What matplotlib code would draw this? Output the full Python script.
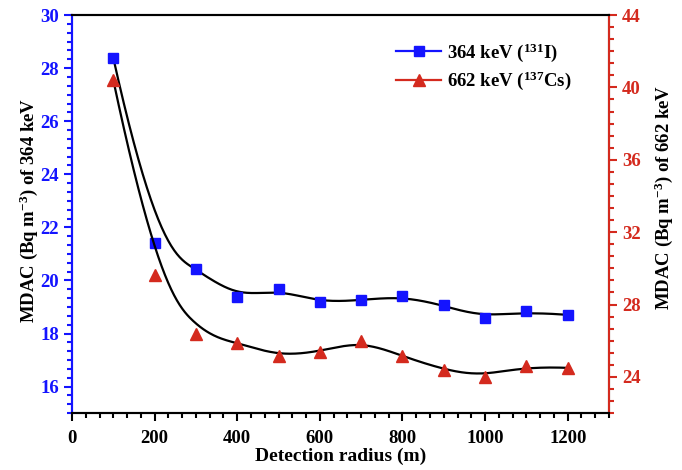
import numpy as np
import matplotlib
matplotlib.use("Agg")
import matplotlib.pyplot as plt
from matplotlib.ticker import MultipleLocator, AutoMinorLocator
from matplotlib.lines import Line2D

# data
radius = [100, 200, 300, 400, 500, 600, 700, 800, 900, 1000, 1100, 1200]
mdac_364 = [28.38, 21.4, 20.42, 19.36, 19.67, 19.17, 19.26, 19.4, 19.06, 18.58, 18.83, 18.7]
mdac_662 = [40.4, 29.65, 26.4, 25.9, 25.15, 25.4, 26.0, 25.15, 24.4, 24.0, 24.6, 24.5]

BLUE = "#1414ff"
RED = "#d42a1e"

plt.rcParams["font.family"] = ["Liberation Serif", "DejaVu Serif"]
plt.rcParams["font.weight"] = "bold"
plt.rcParams["mathtext.fontset"] = "custom"
plt.rcParams["mathtext.rm"] = "Liberation Serif:bold"
plt.rcParams["mathtext.it"] = "Liberation Serif:bold"
plt.rcParams["mathtext.bf"] = "Liberation Serif:bold"


def bspline(xs, ys, k=3, n=400):
    # clamped B-spline with the data points as control points (like Origin's B-Spline line)
    pts = np.column_stack([xs, ys]).astype(float)
    m = len(pts)
    t = np.concatenate([np.zeros(k), np.linspace(0, 1, m - k + 1), np.ones(k)])
    u = np.linspace(0, 1, n)
    u[-1] = 1 - 1e-12
    N = np.zeros((n, len(t) - 1))
    for i in range(len(t) - 1):
        N[:, i] = (u >= t[i]) & (u < t[i + 1])
    for d in range(1, k + 1):
        Nn = np.zeros((n, len(t) - 1 - d))
        for i in range(len(t) - 1 - d):
            a = 0.0
            b = 0.0
            if t[i + d] != t[i]:
                a = (u - t[i]) / (t[i + d] - t[i]) * N[:, i]
            if t[i + d + 1] != t[i + 1]:
                b = (t[i + d + 1] - u) / (t[i + d + 1] - t[i + 1]) * N[:, i + 1]
            Nn[:, i] = a + b
        N = Nn
    c = N @ pts
    return c[:, 0], c[:, 1]


fig = plt.figure(figsize=(6.82, 4.70), dpi=100)
ax = fig.add_axes([0.1056, 0.121, 0.7874, 0.847])
ax2 = ax.twinx()

bx, by = bspline(radius, mdac_364)
ax.plot(bx, by, color="black", lw=1.6, zorder=2)
ax.plot(radius, mdac_364, "s", color=BLUE, ms=6.5, zorder=3)

rx, ry = bspline(radius, mdac_662)
ax2.plot(rx, ry, color="black", lw=1.6, zorder=2)
ax2.plot(radius, mdac_662, "^", color=RED, ms=8.5, zorder=3)

ax.set_xlim(0, 1300)
ax.set_ylim(15, 30)
ax2.set_ylim(22, 44)

ax.xaxis.set_major_locator(MultipleLocator(200))
ax.xaxis.set_minor_locator(AutoMinorLocator(6))
ax.yaxis.set_major_locator(MultipleLocator(2))
ax.yaxis.set_minor_locator(AutoMinorLocator(6))
ax2.yaxis.set_major_locator(MultipleLocator(4))
ax2.yaxis.set_minor_locator(AutoMinorLocator(6))

ax.set_yticks(np.arange(16, 31, 2))
ax2.set_yticks(np.arange(24, 45, 4))

for a in (ax, ax2):
    for s in a.spines.values():
        s.set_linewidth(1.5)
ax2.spines["left"].set_color(BLUE)
ax2.spines["right"].set_color(RED)
ax.spines["left"].set_color(BLUE)

ax.tick_params(axis="x", which="major", length=6, width=1.5, labelsize=13.5, pad=6)
ax.tick_params(axis="x", which="minor", length=3.5, width=1.5)
ax.tick_params(axis="y", which="major", length=6, width=1.5, colors=BLUE, labelsize=13.5)
ax.tick_params(axis="y", which="minor", length=3.5, width=1.5, colors=BLUE)
ax2.tick_params(axis="y", which="major", length=6, width=1.5, colors=RED, labelsize=13.5)
ax2.tick_params(axis="y", which="minor", length=3.5, width=1.5, colors=RED)

ax.set_xlabel("Detection radius (m)", fontsize=14, fontweight="bold", labelpad=1)
ax.set_ylabel(r"MDAC (Bq m$^{-3}$) of 364 keV", fontsize=13.5, fontweight="bold")
ax2.set_ylabel(r"MDAC (Bq m$^{-3}$) of 662 keV", fontsize=13.5, fontweight="bold")
ax.yaxis.set_label_coords(-0.0596, 0.51)
ax2.yaxis.set_label_coords(1.080, 0.543)

handles = [
    Line2D([], [], color=BLUE, lw=1.6, marker="s", ms=6.5),
    Line2D([], [], color=RED, lw=1.6, marker="^", ms=8.5),
]
labels = [r"364 keV ($^{131}$I)", r"662 keV ($^{137}$Cs)"]
ax2.legend(handles, labels, loc="upper left", bbox_to_anchor=(0.572, 0.976), frameon=False,
           prop={"size": 13.5, "weight": "bold"}, handlelength=2.4, labelspacing=0.3,
           handletextpad=0.3)

fig.savefig("out.png", dpi=100)
